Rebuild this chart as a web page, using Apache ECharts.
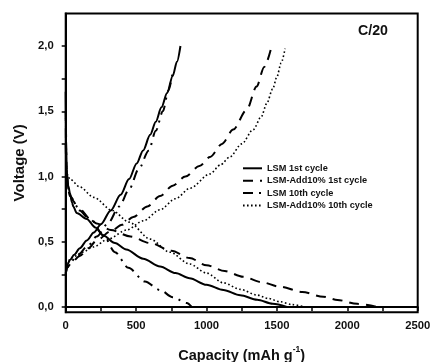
<!DOCTYPE html>
<html>
<head>
<meta charset="utf-8">
<script src="https://cdn.jsdelivr.net/npm/echarts@6/dist/echarts.min.js"></script>
<style>
html,body{margin:0;padding:0;background:#fff;}
#chart{width:431px;height:362px;}
</style>
</head>
<body>
<div id="chart"></div>
<script>
// ---- data (capacity mAh/g, voltage V) ----
var seriesNames = ['LSM 1st cycle', 'LSM-Add10% 1st cycle', 'LSM 10th cycle', 'LSM-Add10% 10th cycle'];

var lsm1Discharge = [[0,1.65],[3,1.3],[7,1.05],[18,0.93],[31,0.87],[45,0.8],[54,0.77],[78,0.72],[150,0.675],[210,0.61],[270,0.545],[350,0.49],[430,0.44],[550,0.37],[670,0.31],[780,0.26],[880,0.22],[1000,0.17],[1120,0.13],[1240,0.09],[1360,0.055],[1470,0.025],[1570,0.0]];
var lsm1Charge = [[0,0.24],[5,0.29],[15,0.33],[30,0.36],[60,0.4],[100,0.45],[150,0.51],[200,0.57],[250,0.635],[320,0.74],[390,0.86],[450,0.98],[504,1.1],[550,1.2],[600,1.32],[640,1.42],[680,1.53],[720,1.64],[760,1.77],[790,1.88],[815,2.0]];

var add1Discharge = [[0,1.5],[3,1.2],[8,1.02],[20,0.9],[45,0.82],[100,0.74],[160,0.68],[220,0.64],[320,0.59],[460,0.54],[600,0.49],[750,0.43],[880,0.375],[1000,0.32],[1130,0.275],[1260,0.232],[1390,0.19],[1520,0.156],[1680,0.115],[1830,0.078],[1930,0.054],[2070,0.024],[2210,0.0]];
var add1Charge = [[0,0.26],[10,0.3],[40,0.34],[100,0.39],[160,0.45],[220,0.51],[320,0.58],[400,0.63],[480,0.69],[580,0.77],[670,0.85],[760,0.93],[850,1.0],[950,1.08],[1025,1.15],[1110,1.25],[1190,1.36],[1285,1.51],[1356,1.69],[1410,1.84],[1463,2.0]];

var lsm10Discharge = [[0,1.25],[5,1.05],[10,0.95],[30,0.85],[90,0.76],[180,0.67],[267,0.55],[350,0.42],[445,0.3],[563,0.195],[670,0.13],[760,0.075],[860,0.03],[895,0.0]];
var lsm10Charge = [[0,0.25],[10,0.3],[30,0.34],[80,0.39],[150,0.46],[220,0.54],[300,0.64],[380,0.77],[450,0.9],[520,1.06],[590,1.2],[640,1.35],[690,1.5],[730,1.66],[760,1.8]];

var add10Discharge = [[0,1.45],[3,1.15],[8,1.02],[30,0.98],[100,0.92],[200,0.84],[330,0.74],[450,0.65],[600,0.52],[740,0.42],[880,0.33],[1000,0.26],[1120,0.185],[1240,0.135],[1356,0.092],[1440,0.065],[1522,0.04],[1610,0.018],[1700,0.0]];
var add10Charge = [[0,0.3],[7,0.335],[25,0.36],[54,0.385],[120,0.42],[196,0.46],[300,0.52],[433,0.59],[550,0.66],[670,0.745],[780,0.83],[883,0.91],[1025,1.02],[1100,1.09],[1166,1.15],[1250,1.25],[1332,1.36],[1390,1.46],[1428,1.56],[1470,1.67],[1499,1.76],[1530,1.87],[1558,1.98]];

var xLabelValues = [0, 500, 1000, 1500, 2000, 2500];
var xTickValues = [0,250,500,750,1000,1250,1500,1750,2000,2250,2500];
var yLabelValues = [0, 0.5, 1.0, 1.5, 2.0];
var yTickValues = [0,0.25,0.5,0.75,1.0,1.25,1.5,1.75,2.0];

// ---- chart ----
var FONT = 'Liberation Sans, Arial, sans-serif';
var styles = [
  {type: 'solid', width: 2},
  {type: [10, 7], width: 2},
  {type: [10, 6, 2, 6], width: 2},
  {type: [1.6, 2.4], width: 1.6}
];
var curves = [
  [lsm1Discharge, lsm1Charge],
  [add1Discharge, add1Charge],
  [lsm10Discharge, lsm10Charge],
  [add10Discharge, add10Charge]
];
var series = [];
curves.forEach(function (pair, i) {
  pair.forEach(function (d) {
    series.push({
      name: seriesNames[i],
      type: 'line',
      data: d,
      showSymbol: false,
      symbol: 'none',
      smooth: 0.3,
      smoothMonotone: 'x',
      animation: false,
      itemStyle: {color: '#000'},
      lineStyle: {color: '#000', width: styles[i].width, type: styles[i].type}
    });
  });
});

var chart = echarts.init(document.getElementById('chart'), null, {renderer: 'canvas'});
chart.setOption({
  backgroundColor: '#fff',
  animation: false,
  grid: {left: 65.7, right: 13.3, top: 13.4, bottom: 49.8, show: true, borderColor: '#000', borderWidth: 2, backgroundColor: 'transparent', outerBoundsMode: 'none', containLabel: false},
  legend: {
    data: seriesNames,
    orient: 'vertical',
    left: 242,
    top: 163.3,
    padding: 0,
    itemWidth: 19,
    itemHeight: 10,
    itemGap: 2.4,
    itemStyle: {opacity: 0},
    textStyle: {fontFamily: FONT, fontWeight: 'bold', fontSize: 9.2, color: '#111', lineHeight: 10}
  },
  xAxis: {
    type: 'value', min: 0, max: 2500, interval: 500,
    axisLine: {lineStyle: {color: '#000', width: 2}},
    axisTick: {customValues: xTickValues, length: 4, lineStyle: {color: '#000', width: 1.5}},
    axisLabel: {customValues: xLabelValues, margin: 8, fontFamily: FONT, fontWeight: 'bold', fontSize: 11.3, color: '#111',
      formatter: function (v) { return String(Math.round(v)); }},
    splitLine: {show: false},
    name: '{a|Capacity (mAh g}{s|-1}{a|)}',
    nameLocation: 'middle',
    nameGap: 33,
    nameTextStyle: {
      rich: {
        a: {fontFamily: FONT, fontWeight: 'bold', fontSize: 14.5, color: '#111', lineHeight: 18, verticalAlign: 'bottom'},
        s: {fontFamily: FONT, fontWeight: 'bold', fontSize: 8.5, color: '#111', lineHeight: 18, verticalAlign: 'top'}
      }
    }
  },
  yAxis: {
    type: 'value', min: -0.04, max: 2.25,
    axisLine: {lineStyle: {color: '#000', width: 2}},
    axisTick: {customValues: yTickValues, length: 4, lineStyle: {color: '#000', width: 1.5}},
    axisLabel: {
      customValues: yLabelValues, margin: 12, fontFamily: FONT, fontWeight: 'bold', fontSize: 11.3, color: '#111',
      formatter: function (v) { return Number(v).toFixed(1).replace('.', ','); }
    },
    splitLine: {show: false},
    name: 'Voltage (V)',
    nameLocation: 'middle',
    nameGap: 38,
    nameTextStyle: {fontFamily: FONT, fontWeight: 'bold', fontSize: 15, color: '#111'}
  },
  graphic: [{
    type: 'text', left: 358, top: 24,
    style: {text: 'C/20', font: 'bold 14.2px Liberation Sans, Arial, sans-serif', fill: '#111'}
  }],
  series: series
});
</script>
</body>
</html>
